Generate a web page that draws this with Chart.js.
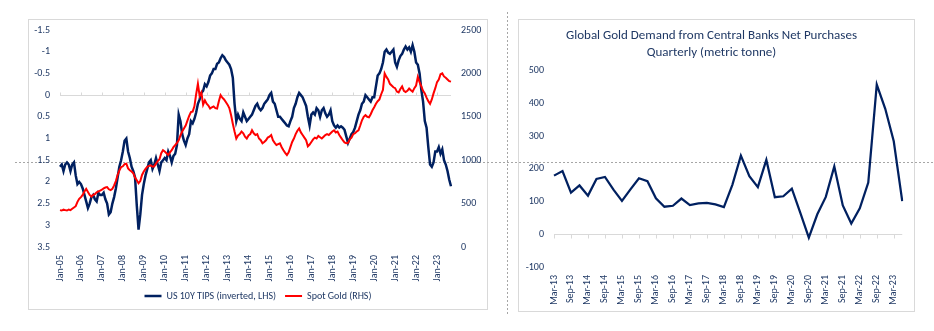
<!DOCTYPE html>
<html>
<head>
<meta charset="utf-8">
<script src="https://cdn.jsdelivr.net/npm/chart.js@4.4.1/dist/chart.umd.min.js"></script>
<style>
  html, body { margin: 0; padding: 0; background: #fff; }
  body { width: 934px; height: 331px; position: relative; overflow: hidden; }
  .frame { position: absolute; border: 1px solid #d9d9d9; box-sizing: border-box; }
  canvas { position: absolute; }
  .hdots { position: absolute; height: 1px; background: repeating-linear-gradient(to right, #a6a6a6 0 2px, transparent 2px 4px); }
  .vdots { position: absolute; width: 1px; background: repeating-linear-gradient(to bottom, #a6a6a6 0 2px, transparent 2px 4px); }
</style>
</head>
<body>
<div class="frame" style="left:28px;top:19px;width:460px;height:291px"></div>
<div class="frame" style="left:518px;top:19px;width:397px;height:293px"></div>
<div class="hdots" style="left:15px;top:162px;width:919px"></div>
<div class="vdots" style="left:507px;top:12px;height:303px"></div>
<canvas id="tipsChart" width="458" height="297" style="left:29px;top:14px"></canvas>
<canvas id="cbChart" width="395" height="291" style="left:519px;top:20px"></canvas>

<script>
// ---- data ----
const MON = ['Jan','Feb','Mar','Apr','May','Jun','Jul','Aug','Sep','Oct','Nov','Dec'];

// monthly, Jan-05 .. Sep-23
const monthLabels = [];
for (let y = 2005; y <= 2023; y++) {
  for (let m = 0; m < 12; m++) {
    if (y === 2023 && m > 8) break;
    monthLabels.push(MON[m] + '-' + String(y).slice(2));
  }
}

// US 10Y TIPS real yield, %
const tipsYield = [
  1.65, 1.6, 1.75, 1.6, 1.55, 1.6, 1.75, 1.6, 1.55, 1.85, 2.05, 2.0,
  2.05, 2.15, 2.3, 2.45, 2.6, 2.5, 2.35, 2.3, 2.4, 2.45, 2.25, 2.3,
  2.3, 2.25, 2.4, 2.5, 2.75, 2.7, 2.5, 2.35, 2.15, 1.9, 1.65, 1.5,
  1.3, 1.05, 1.0, 1.3, 1.45, 1.65, 1.75, 1.9, 2.55, 3.1, 2.75, 2.3,
  2.05, 1.85, 1.7, 1.55, 1.5, 1.7, 1.6, 1.45, 1.6, 1.75, 1.55, 1.5,
  1.45, 1.5, 1.3, 1.4, 1.55, 1.4, 1.35, 1.15, 0.45, 0.6, 0.9, 1.05,
  1.15, 1.0, 0.9, 0.6, 0.65, 0.55, 0.4, 0.2, 0.1, -0.05, -0.1, -0.25,
  -0.2, -0.3, -0.45, -0.5, -0.6, -0.6, -0.72, -0.75, -0.85, -0.92, -0.88, -0.8,
  -0.75, -0.7, -0.6, -0.4, 0.2, 0.6, 0.45, 0.55, 0.6, 0.4, 0.5, 0.6,
  0.55, 0.5, 0.45, 0.35, 0.25, 0.2, 0.3, 0.35, 0.3, 0.2, 0.15, 0.1,
  0.0, -0.05, 0.15, 0.2, 0.35, 0.5, 0.5, 0.55, 0.6, 0.65, 0.7, 0.72,
  0.6, 0.5, 0.3, 0.2, 0.05, -0.05, 0.0, 0.05, 0.15, 0.25, 0.5, 0.7,
  0.45, 0.4, 0.45, 0.3, 0.35, 0.5, 0.35, 0.3, 0.42, 0.5, 0.45, 0.35,
  0.6, 0.7, 0.75, 0.7, 0.75, 0.72, 0.75, 0.8, 0.95, 1.1, 1.0, 0.9,
  0.85, 0.75, 0.6, 0.45, 0.35, 0.2, 0.15, 0.0, 0.05, 0.1, 0.15, 0.05,
  0.05, -0.2, -0.45, -0.5, -0.6, -0.75, -1.0, -1.05, -0.98, -0.95, -1.0, -1.05,
  -0.75, -0.65, -0.8, -0.9, -0.95, -1.05, -1.12, -1.05, -1.1, -1.0, -1.15, -1.0,
  -0.75, -0.7, -0.5, -0.12, 0.15, 0.6, 0.75, 1.2, 1.6, 1.65, 1.55, 1.3,
  1.3, 1.2, 1.35, 1.25, 1.5, 1.6, 1.75, 1.95, 2.1
];

// spot gold, USD/oz
const goldPrice = [
  425, 420, 430, 425, 420, 432, 425, 440, 455, 470, 520, 555,
  575, 600, 640, 670, 635, 600, 580, 600, 610, 630, 640, 650,
  660, 675, 685, 690, 665, 655, 670, 710, 760, 830, 880, 920,
  930, 955, 960, 905, 885, 870, 850, 800, 770, 735, 760, 830,
  870, 900, 925, 935, 940, 925, 930, 960, 990, 1010, 1080, 1115,
  1100, 1080, 1060, 1090, 1115, 1150, 1175, 1200, 1230, 1285, 1330, 1365,
  1400, 1455, 1510, 1555, 1560, 1620, 1760, 1880, 1740, 1780, 1640, 1690,
  1650, 1630, 1595, 1610, 1620, 1600, 1595, 1680, 1750, 1720, 1700, 1670,
  1640, 1600, 1520, 1420, 1330, 1250, 1285, 1300, 1330, 1310, 1270, 1250,
  1285, 1300, 1345, 1310, 1290, 1300, 1250, 1230, 1195, 1210, 1230, 1260,
  1270, 1290, 1230, 1200, 1175, 1185, 1195, 1150, 1115, 1085, 1060, 1090,
  1150, 1210, 1250, 1300, 1340, 1365, 1320, 1290, 1260, 1230, 1160, 1180,
  1210, 1240, 1260, 1250, 1280, 1265, 1250, 1270, 1290, 1300, 1290, 1310,
  1330, 1345, 1320, 1330, 1290, 1260, 1230, 1205, 1195, 1200, 1240, 1260,
  1300, 1310, 1330, 1345, 1400, 1460, 1500, 1520, 1500, 1495, 1530, 1575,
  1610, 1650, 1680, 1700, 1760, 1810, 2000, 1960, 1930, 1880, 1860, 1840,
  1830, 1790, 1780, 1820, 1850, 1800, 1785, 1800, 1825, 1805, 1790, 1830,
  1860, 1960, 1900, 1850, 1800, 1770, 1720, 1680, 1650, 1700, 1770, 1830,
  1900, 1930, 1990, 2000, 1965, 1950, 1930, 1910, 1905
];

// quarterly, Mar-13 .. Jun-23
const quarterLabels = [];
for (let y = 2013; y <= 2023; y++) {
  for (const m of [2, 5, 8, 11]) {
    if (y === 2023 && m > 5) break;
    quarterLabels.push(MON[m] + '-' + String(y).slice(2));
  }
}

// central bank net purchases, tonnes
const cbPurchases = [
  179, 193, 127, 149, 118, 169, 175, 136, 102, 137, 171, 162,
  110, 84, 87, 109, 89, 94, 96, 91, 83, 151, 240, 177,
  144, 227, 113, 116, 139, 65, -10, 61, 114, 207, 88, 33,
  79, 158, 457, 383, 284, 101
];

const tipsTicks = [-1.5, -1, -0.5, 0, 0.5, 1, 1.5, 2, 2.5, 3, 3.5];
const goldTicks = [0, 500, 1000, 1500, 2000, 2500];
const cbTicks = [-100, 0, 100, 200, 300, 400, 500];

// ---- styling ----
const NAVY = '#002060';
const TEXT = '#1f3864';
const RED = '#ff0000';
const AXIS_GREY = '#d9d9d9';

Chart.defaults.font.family = "Carlito, 'Liberation Sans Narrow', Roboto, sans-serif";
Chart.defaults.font.size = 10;
Chart.defaults.color = TEXT;
Chart.defaults.animation = false;

// horizontal axis line drawn at value 0 with small tick marks
const zeroAxis = {
  id: 'zeroAxis',
  beforeDatasetsDraw(chart, args, opts) {
    const { ctx, chartArea } = chart;
    const xs = chart.scales.x;
    const ys = chart.scales[opts.axis || 'y'];
    const py = Math.round(ys.getPixelForValue(0)) + 0.5;
    ctx.save();
    ctx.strokeStyle = opts.color;
    ctx.lineWidth = 1;
    ctx.beginPath();
    ctx.moveTo(chartArea.left, py);
    ctx.lineTo(chartArea.right, py);
    const n = chart.data.labels.length;
    for (let i = 0; i < n; i += opts.every) {
      const px = Math.round(xs.getPixelForValue(i)) + 0.5;
      ctx.moveTo(px, py);
      ctx.lineTo(px, py + opts.tick);
    }
    ctx.stroke();
    ctx.restore();
  }
};

const fixedTicks = (list) => (scale) => { scale.ticks = list.map(v => ({ value: v })); };
const noGrid = { display: false, drawTicks: false };

new Chart(document.getElementById('tipsChart'), {
  type: 'line',
  data: {
    labels: monthLabels,
    datasets: [
      { label: 'US 10Y TIPS (inverted, LHS)', data: tipsYield, yAxisID: 'y',
        borderColor: NAVY, backgroundColor: NAVY, borderWidth: 2.5, pointRadius: 0, order: 1 },
      { label: 'Spot Gold (RHS)', data: goldPrice, yAxisID: 'y2',
        borderColor: RED, backgroundColor: RED, borderWidth: 2, pointRadius: 0, order: 0 }
    ]
  },
  options: {
    responsive: false,
    layout: { padding: 0 },
    plugins: {
      legend: {
        position: 'bottom',
        labels: {
          usePointStyle: true, pointStyle: 'line', pointStyleWidth: 17,
          padding: 9, font: { size: 10 }, color: TEXT,
          sort: (a, b) => a.datasetIndex - b.datasetIndex
        }
      },
      tooltip: { enabled: false },
      zeroAxis: { color: AXIS_GREY, every: 12, tick: -3, axis: 'y' }
    },
    scales: {
      x: {
        grid: noGrid, border: { display: false },
        ticks: {
          autoSkip: false, minRotation: 90, maxRotation: 90, padding: 8,
          callback: (v, i) => (i % 12 === 0 ? monthLabels[i] : null)
        },
        afterFit: (s) => { s.height = 35; }
      },
      y: {
        reverse: true, min: -1.5, max: 3.5,
        grid: noGrid, border: { display: false },
        afterBuildTicks: fixedTicks(tipsTicks),
        ticks: { padding: 10, callback: (v) => String(v) },
        afterFit: (s) => { s.width = 31; }
      },
      y2: {
        position: 'right', min: 0, max: 2500,
        grid: noGrid, border: { display: false },
        afterBuildTicks: fixedTicks(goldTicks),
        ticks: { padding: 10, callback: (v) => String(v) },
        afterFit: (s) => { s.width = 36; }
      }
    }
  },
  plugins: [zeroAxis]
});

new Chart(document.getElementById('cbChart'), {
  type: 'line',
  data: {
    labels: quarterLabels,
    datasets: [
      { label: 'Net purchases', data: cbPurchases, borderColor: NAVY,
        borderWidth: 2.25, pointRadius: 0, tension: 0 }
    ]
  },
  options: {
    responsive: false,
    layout: { padding: { top: 0, left: 0, right: 10, bottom: 0 } },
    plugins: {
      legend: { display: false },
      tooltip: { enabled: false },
      title: {
        display: true,
        text: ['Global Gold Demand from Central Banks Net Purchases', 'Quarterly (metric tonne)'],
        color: TEXT, font: { size: 13, weight: 'normal', lineHeight: 1.25 },
        padding: { top: 8, bottom: 10 }
      },
      zeroAxis: { color: AXIS_GREY, every: 2, tick: 4, axis: 'y' }
    },
    scales: {
      x: {
        grid: noGrid, border: { display: false },
        ticks: {
          autoSkip: false, minRotation: 90, maxRotation: 90, padding: 8,
          callback: (v, i) => (i % 2 === 0 ? quarterLabels[i] : null)
        },
        afterFit: (s) => { s.height = 44; }
      },
      y: {
        min: -100, max: 500,
        grid: noGrid, border: { display: false },
        afterBuildTicks: fixedTicks(cbTicks),
        ticks: { padding: 10 },
        afterFit: (s) => { s.width = 35; }
      }
    }
  },
  plugins: [zeroAxis]
});
</script>
</body>
</html>
